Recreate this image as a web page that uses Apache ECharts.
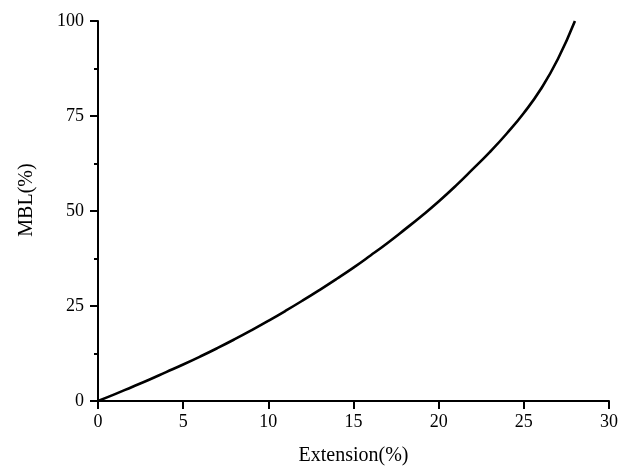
<!DOCTYPE html>
<html>
<head>
<meta charset="utf-8">
<script src="https://cdn.jsdelivr.net/npm/echarts@6/dist/echarts.min.js"></script>
<style>
html, body { margin: 0; padding: 0; background: #fff; }
#main { width: 618px; height: 467px; }
</style>
</head>
<body>
<div id="main"></div>
<script>
// extension (%) vs MBL (%)
var extension = [0, 1, 2, 3, 4, 5, 6, 7, 8, 9, 10, 11, 12, 13, 14,
                 15, 16, 17, 18, 19, 20, 21, 22, 23, 24, 25, 26, 27, 28];
var mbl = [0, 1.8, 3.7, 5.6, 7.6, 9.6, 11.7, 13.9, 16.2, 18.6, 21.1, 23.7, 26.4, 29.2, 32.1,
           35.1, 38.3, 41.6, 45.1, 48.7, 52.5, 56.6, 61.0, 65.5, 70.4, 75.8, 82.1, 90.0, 100];
var xTicks = [0, 5, 10, 15, 20, 25, 30];
var yTicks = [0, 25, 50, 75, 100];

var points = [];
for (var i = 0; i < extension.length; i++) {
    points.push([extension[i], mbl[i]]);
}

var myChart = echarts.init(document.getElementById('main'));
var font = 'Liberation Serif';

var option = {
    animation: false,
    grid: { left: 98, right: 9, top: 21, bottom: 66, outerBoundsMode: 'none', containLabel: false },
    xAxis: {
        type: 'value',
        min: xTicks[0],
        max: xTicks[xTicks.length - 1],
        interval: 5,
        name: 'Extension(%)',
        nameLocation: 'middle',
        nameGap: 45,
        nameTextStyle: { fontFamily: font, fontSize: 20, color: '#000' },
        axisLine: { show: true, lineStyle: { color: '#000', width: 2 } },
        axisTick: { show: true, length: 8, lineStyle: { color: '#000', width: 2 } },
        axisLabel: { fontFamily: font, fontSize: 18, color: '#000', margin: 12 },
        splitLine: { show: false }
    },
    yAxis: {
        type: 'value',
        min: yTicks[0],
        max: yTicks[yTicks.length - 1],
        interval: 25,
        name: 'MBL(%)',
        nameLocation: 'middle',
        nameGap: 61,
        nameTextStyle: { fontFamily: font, fontSize: 20, color: '#000', padding: [0, 0, 0, 22] },
        axisLine: { show: true, lineStyle: { color: '#000', width: 2 } },
        axisTick: { show: true, length: 8, lineStyle: { color: '#000', width: 2 } },
        minorTick: { show: true, splitNumber: 2, length: 4, lineStyle: { color: '#000', width: 2 } },
        axisLabel: { fontFamily: font, fontSize: 18, color: '#000', margin: 14 },
        splitLine: { show: false }
    },
    series: [{
        type: 'line',
        data: points,
        smooth: true,
        showSymbol: false,
        lineStyle: { color: '#000', width: 2.6 }
    }]
};

myChart.setOption(option);
</script>
</body>
</html>
